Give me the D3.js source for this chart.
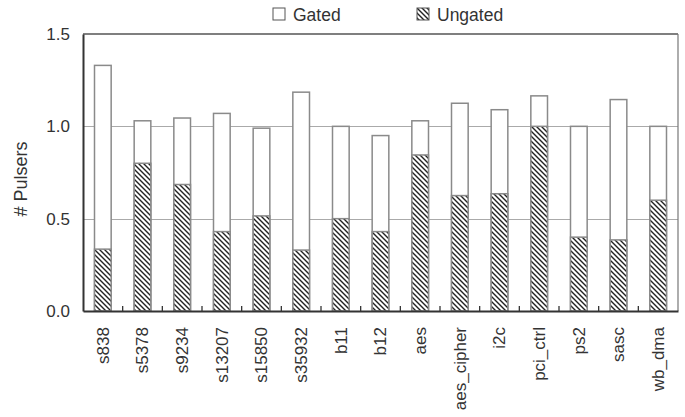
<!DOCTYPE html>
<html>
<head>
<meta charset="utf-8">
<script src="https://cdn.jsdelivr.net/npm/d3@7"></script>
<style>
  body { margin: 0; background: #fff; }
  svg { display: block; font-family: "Liberation Sans", Arial, sans-serif; }
</style>
</head>
<body>
<svg id="chart" width="685" height="417"></svg>
<script>
// Pulser counts per benchmark circuit
const circuits = ["s838", "s5378", "s9234", "s13207", "s15850", "s35932", "b11", "b12",
  "aes", "aes_cipher", "i2c", "pci_ctrl", "ps2", "sasc", "wb_dma"];
const gated   = [1.33, 1.03, 1.045, 1.07, 0.99, 1.185, 1.0, 0.95, 1.03, 1.125, 1.09, 1.165, 1.0, 1.145, 1.0];
const ungated = [0.335, 0.80, 0.685, 0.43, 0.515, 0.33, 0.50, 0.43, 0.845, 0.625, 0.635, 1.0, 0.40, 0.385, 0.60];
const yTicks = [0.0, 0.5, 1.0, 1.5];
const gridValues = [0.5, 1.0];

const svg = d3.select("#chart");
const margin = { left: 83, right: 7, top: 34, bottom: 106 };
const W = 685, H = 417;
const x0 = margin.left, x1 = W - margin.right;
const y0 = H - margin.bottom, y1 = margin.top;

const x = d3.scaleBand().domain(circuits).range([x0, x1]).paddingInner(0.58).paddingOuter(0.29);
const y = d3.scaleLinear().domain([0, 1.5]).range([y0, y1]);

// diagonal hatch for the ungated bars
const defs = svg.append("defs");
const pat = defs.append("pattern")
  .attr("id", "hatch").attr("patternUnits", "userSpaceOnUse")
  .attr("width", 5).attr("height", 5);
pat.append("rect").attr("width", 5).attr("height", 5).attr("fill", "#fff");
pat.append("path").attr("d", "M-1,-1 L6,6 M-1,4 L1,6 M4,-1 L6,1")
  .attr("stroke", "#222").attr("stroke-width", 1.4);

// gridlines
svg.append("g").selectAll("line").data(gridValues).join("line")
  .attr("x1", x0).attr("x2", x1)
  .attr("y1", d => Math.round(y(d)) + 0.5).attr("y2", d => Math.round(y(d)) + 0.5)
  .attr("stroke", "#aaa").attr("stroke-width", 1);

// gated (total) bars
svg.append("g").selectAll("rect").data(circuits).join("rect")
  .attr("x", d => x(d)).attr("width", x.bandwidth())
  .attr("y", (d, i) => y(gated[i])).attr("height", (d, i) => y(0) - y(gated[i]))
  .attr("fill", "#fff").attr("stroke", "#8a8a8a").attr("stroke-width", 1.5);

// ungated bars
svg.append("g").selectAll("rect").data(circuits).join("rect")
  .attr("x", d => x(d)).attr("width", x.bandwidth())
  .attr("y", (d, i) => y(ungated[i])).attr("height", (d, i) => y(0) - y(ungated[i]))
  .attr("fill", "url(#hatch)").attr("stroke", "#8a8a8a").attr("stroke-width", 1.5);

// frame
svg.append("line").attr("x1", x0).attr("x2", x1).attr("y1", y1).attr("y2", y1)
  .attr("stroke", "#555").attr("stroke-width", 1.5);
svg.append("line").attr("x1", x1).attr("x2", x1).attr("y1", y1).attr("y2", y0)
  .attr("stroke", "#777").attr("stroke-width", 1.2);

// y axis
const yAxis = svg.append("g").attr("transform", `translate(${x0},0)`)
  .call(d3.axisLeft(y).tickValues(yTicks).tickFormat(d3.format(".1f")).tickSize(0).tickPadding(13));
yAxis.select(".domain").attr("stroke", "#333").attr("stroke-width", 2);
yAxis.selectAll("text").attr("font-size", 17).attr("fill", "#333");

// x axis with ticks between categories
const xAxis = svg.append("g").attr("transform", `translate(0,${y0})`)
  .call(d3.axisBottom(x).tickSize(0).tickPadding(14));
xAxis.select(".domain").attr("stroke", "#333").attr("stroke-width", 2);
xAxis.selectAll("text")
  .attr("font-size", 17).attr("fill", "#333")
  .attr("transform", "rotate(-90)")
  .attr("text-anchor", "end")
  .attr("dy", "0.35em")
  .attr("x", -16).attr("y", 0);
const step = x.step();
const bounds = d3.range(1, circuits.length).map(i => x0 + i * step);
svg.append("g").selectAll("line").data(bounds).join("line")
  .attr("x1", d => d).attr("x2", d => d).attr("y1", y0).attr("y2", y0 - 5)
  .attr("stroke", "#333").attr("stroke-width", 1.3);

// y title
svg.append("text").attr("transform", "translate(27,179) rotate(-90)")
  .attr("text-anchor", "middle").attr("font-size", 18).attr("fill", "#333")
  .text("# Pulsers");

// legend
const legend = [{ label: "Gated", fill: "#fff", x: 273 }, { label: "Ungated", fill: "url(#hatch)", x: 417 }];
const lg = svg.append("g").selectAll("g").data(legend).join("g")
  .attr("transform", d => `translate(${d.x},8)`);
lg.append("rect").attr("width", 12).attr("height", 12)
  .attr("fill", d => d.fill).attr("stroke", "#555").attr("stroke-width", 1);
lg.append("text").attr("x", 20).attr("y", 12.5).attr("font-size", 17.5).attr("fill", "#333")
  .text(d => d.label);
</script>
</body>
</html>
